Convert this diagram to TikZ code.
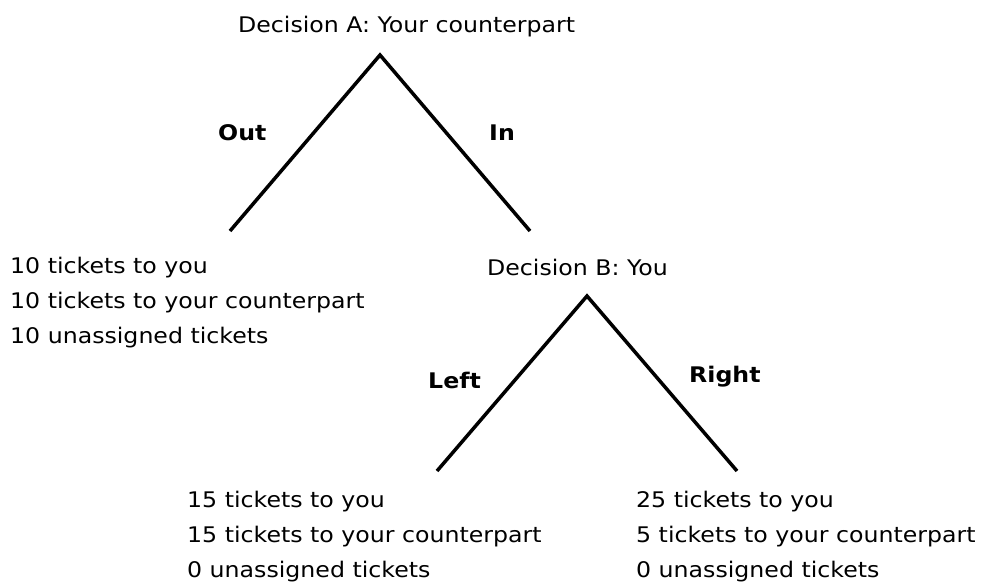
\documentclass[tikz,border=0pt]{standalone}
\usepackage{fontspec}
\setmainfont[FakeStretch=1.1]{DejaVu Sans}
\begin{document}
\begin{tikzpicture}[x=1pt,y=-1pt,
  txt/.style={anchor=base west,inner sep=0pt,font=\fontsize{21.5}{25}\selectfont},
  lbl/.style={txt,font=\fontsize{21.5}{25}\selectfont\bfseries},
  branch/.style={line width=3.5pt,line join=miter,line cap=butt}]
\useasboundingbox (0,0) rectangle (985,587);

% first decision
\node[txt] (titleA) at (238,32) {Decision A: Your counterpart};
\coordinate (topA) at (380,55);
\coordinate (endOut) at (230,231);
\coordinate (endIn) at (530,231);
\draw[branch] (endOut) -- (topA) -- (endIn);
\node[lbl] (out) at (218,140) {Out};
\node[lbl] (in) at (489,140) {In};

% payoff after Out
\node[txt] (o1) at (10,273) {10 tickets to you};
\node[txt] (o2) at (10,308) {10 tickets to your counterpart};
\node[txt] (o3) at (10,343) {10 unassigned tickets};

% second decision
\node[txt] (titleB) at (487,275) {Decision B: You};
\coordinate (topB) at (587,296);
\coordinate (endLeft) at (437,471);
\coordinate (endRight) at (737,471);
\draw[branch] (endLeft) -- (topB) -- (endRight);
\node[lbl] (left) at (428,388) {Left};
\node[lbl] (right) at (689,382) {Right};

% payoff after Left
\node[txt] (l1) at (187,507) {15 tickets to you};
\node[txt] (l2) at (187,542.5) {15 tickets to your counterpart};
\node[txt] (l3) at (187,577) {0 unassigned tickets};

% payoff after Right
\node[txt] (r1) at (636,507) {25 tickets to you};
\node[txt] (r2) at (636,542.5) {5 tickets to your counterpart};
\node[txt] (r3) at (636,577) {0 unassigned tickets};
\end{tikzpicture}
\end{document}
